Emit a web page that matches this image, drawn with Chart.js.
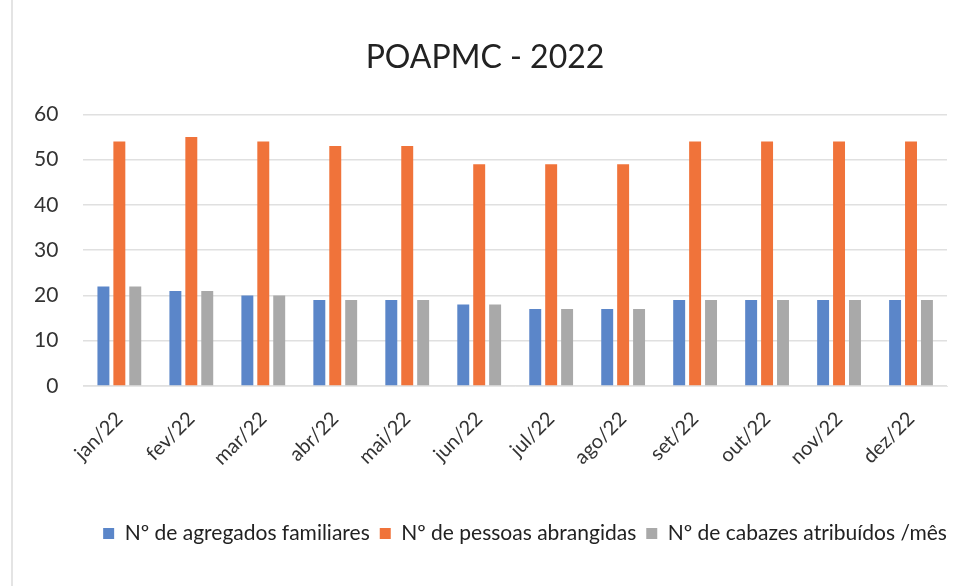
<!DOCTYPE html>
<html lang="pt">
<head>
    <meta charset="UTF-8">
    <title>POAPMC - 2022</title>
    <script src="https://cdn.jsdelivr.net/npm/chart.js"></script>
    <style>
        body {
            margin: 0;
            background: #fff;
        }
        .wrap {
            width: 964px;
            height: 586px;
            position: relative;
        }
        .wrap::before {
            content: "";
            position: absolute;
            left: 11px;
            top: 0;
            bottom: 0;
            border-left: 2px solid #e4e4e4;
        }
    </style>
</head>
<body>
    <div class="wrap">
        <canvas id="grafico" width="964" height="586"></canvas>
    </div>

    <script>
        // Dados
        const meses = ['jan/22', 'fev/22', 'mar/22', 'abr/22', 'mai/22', 'jun/22',
                       'jul/22', 'ago/22', 'set/22', 'out/22', 'nov/22', 'dez/22'];
        const agregados = [22, 21, 20, 19, 19, 18, 17, 17, 19, 19, 19, 19];
        const pessoas   = [54, 55, 54, 53, 53, 49, 49, 49, 54, 54, 54, 54];
        const cabazes   = [22, 21, 20, 19, 19, 18, 17, 17, 19, 19, 19, 19];
        const ticksY    = [0, 10, 20, 30, 40, 50, 60];

        const fonte = "Lato, 'Open Sans', sans-serif";

        // título e legenda ficam um pouco à direita, como no original
        const deslocaBlocos = {
            id: 'deslocaBlocos',
            afterLayout(chart) {
                chart.legend.left += 47;
                chart.legend.right += 47;
                chart.titleBlock.left += 7;
                chart.titleBlock.right += 7;
            }
        };

        const ctx = document.getElementById('grafico').getContext('2d');
        new Chart(ctx, {
            type: 'bar',
            data: {
                labels: meses,
                datasets: [{
                    label: 'Nº de agregados familiares',
                    data: agregados,
                    backgroundColor: '#5B86C9'
                }, {
                    label: 'Nº de pessoas abrangidas',
                    data: pessoas,
                    backgroundColor: '#F0733A'
                }, {
                    label: 'Nº de cabazes atribuídos /mês',
                    data: cabazes,
                    backgroundColor: '#A9A9A9'
                }]
            },
            plugins: [deslocaBlocos],
            options: {
                responsive: false,
                animation: false,
                layout: { padding: { left: 9, right: 17, top: 0, bottom: 32 } },
                datasets: {
                    bar: { categoryPercentage: 0.664, barPercentage: 0.75 }
                },
                scales: {
                    y: {
                        min: 0,
                        max: 60,
                        afterBuildTicks: axis => { axis.ticks = ticksY.map(v => ({ value: v })); },
                        border: { display: false },
                        grid: { color: '#e0e0e0', lineWidth: 1.5, drawTicks: false },
                        ticks: {
                            padding: 25,
                            color: '#333',
                            font: { family: fonte, size: 21 }
                        }
                    },
                    x: {
                        border: { color: '#e6e6e6' },
                        grid: { display: false },
                        afterFit: axis => {
                            axis.height = 127;
                            axis.paddingLeft = 0;
                            axis.paddingRight = 0;
                        },
                        ticks: {
                            minRotation: 45,
                            maxRotation: 45,
                            color: '#333',
                            padding: 13,
                            font: { family: fonte, size: 20 }
                        }
                    }
                },
                plugins: {
                    title: {
                        display: true,
                        text: 'POAPMC - 2022',
                        color: '#222',
                        font: { family: fonte, size: 32, weight: 'normal' },
                        padding: { top: 38, bottom: 38 }
                    },
                    legend: {
                        position: 'bottom',
                        labels: {
                            boxWidth: 11,
                            boxHeight: 11,
                            padding: 10,
                            color: '#222',
                            font: { family: fonte, size: 21 }
                        }
                    },
                    tooltip: { enabled: false }
                }
            }
        });
    </script>
</body>
</html>
